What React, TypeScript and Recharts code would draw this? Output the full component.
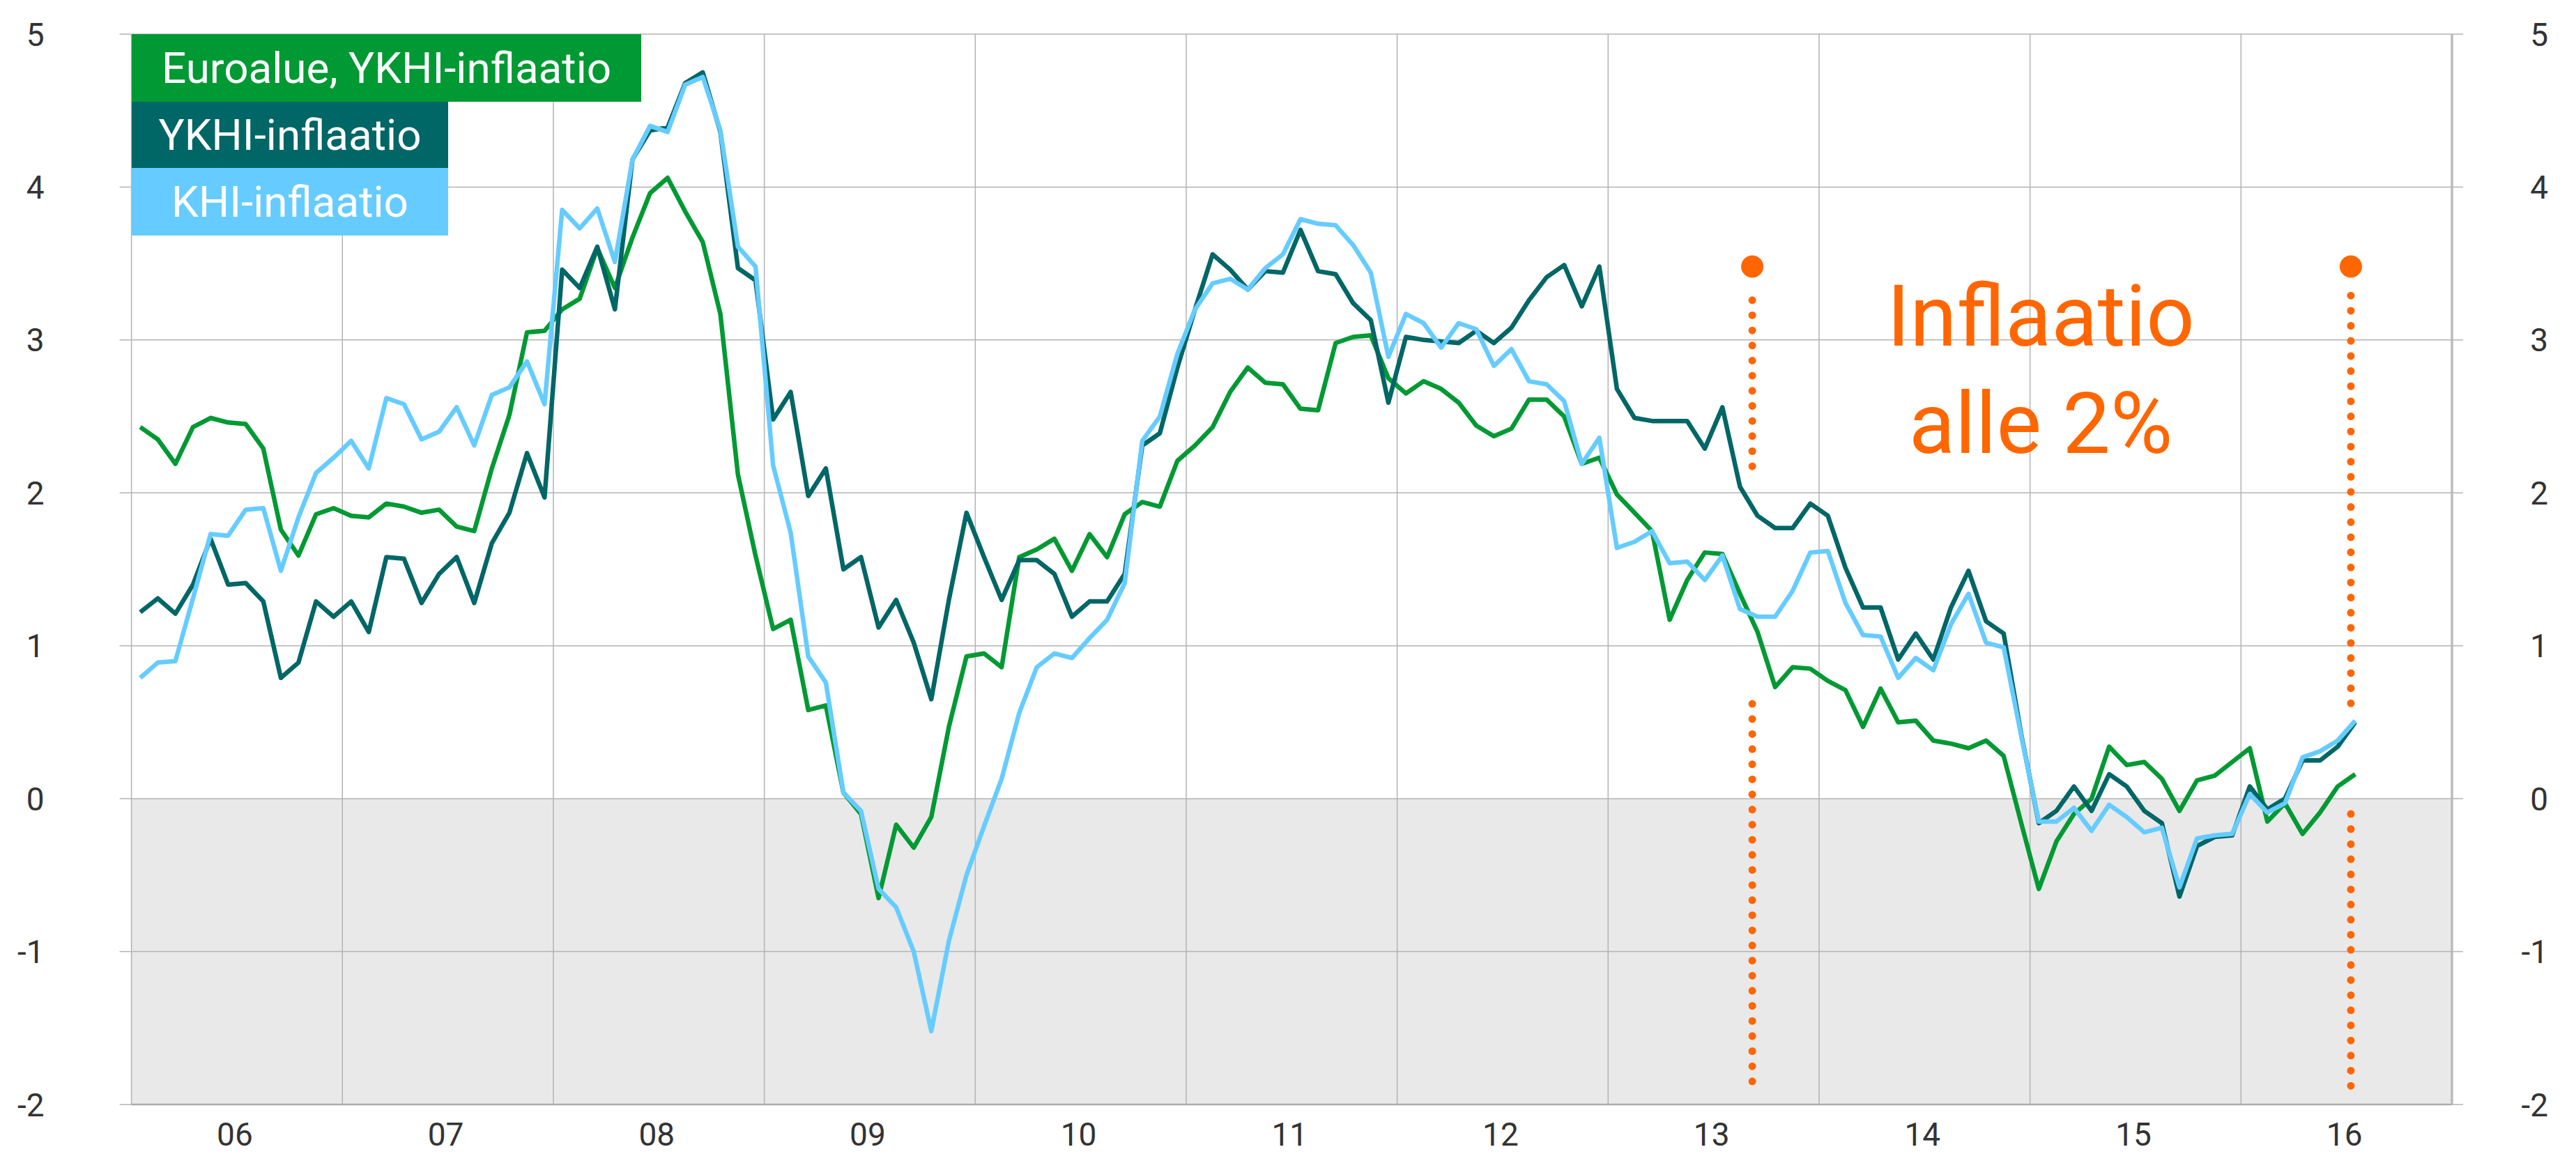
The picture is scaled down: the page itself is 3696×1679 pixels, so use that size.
import React from 'react';
import {
  LineChart,
  Line,
  XAxis,
  YAxis,
  ReferenceLine,
  ReferenceArea,
  ReferenceDot,
} from 'recharts';

// Monthly values, Jan 2006 ... Jul 2016
const euroHicp = [
  2.43, 2.35, 2.19, 2.43, 2.49, 2.46, 2.45, 2.29, 1.76, 1.59, 1.86, 1.9,
  1.85, 1.84, 1.93, 1.91, 1.87, 1.89, 1.78, 1.75, 2.16, 2.51, 3.05, 3.06,
  3.2, 3.27, 3.6, 3.34, 3.67, 3.96, 4.06, 3.84, 3.64, 3.17, 2.12, 1.59,
  1.11, 1.17, 0.58, 0.61, 0.04, -0.1, -0.65, -0.17, -0.32, -0.12, 0.47, 0.93,
  0.95, 0.86, 1.58, 1.63, 1.7, 1.49, 1.73, 1.58, 1.86, 1.94, 1.91, 2.21,
  2.31, 2.43, 2.66, 2.82, 2.72, 2.71, 2.55, 2.54, 2.98, 3.02, 3.03, 2.75,
  2.65, 2.73, 2.68, 2.59, 2.44, 2.37, 2.42, 2.61, 2.61, 2.5, 2.19, 2.23,
  1.99, 1.87, 1.75, 1.17, 1.43, 1.61, 1.6, 1.34, 1.09, 0.73, 0.86, 0.85,
  0.77, 0.71, 0.47, 0.72, 0.5, 0.51, 0.38, 0.36, 0.33, 0.38, 0.28, -0.16,
  -0.59, -0.28, -0.1, 0.0, 0.34, 0.22, 0.24, 0.13, -0.08, 0.12, 0.15, 0.24,
  0.33, -0.15, -0.03, -0.23, -0.09, 0.08, 0.16,
];

const finHicp = [
  1.22, 1.31, 1.21, 1.4, 1.7, 1.4, 1.41, 1.29, 0.79, 0.89, 1.29, 1.19,
  1.29, 1.09, 1.58, 1.57, 1.28, 1.47, 1.58, 1.28, 1.67, 1.87, 2.26, 1.97,
  3.46, 3.34, 3.61, 3.2, 4.18, 4.37, 4.39, 4.68, 4.75, 4.36, 3.47, 3.39,
  2.48, 2.66, 1.98, 2.16, 1.5, 1.58, 1.12, 1.3, 1.02, 0.65, 1.3, 1.87,
  1.58, 1.3, 1.56, 1.56, 1.47, 1.19, 1.29, 1.29, 1.47, 2.31, 2.39, 2.82,
  3.2, 3.56, 3.46, 3.33, 3.45, 3.44, 3.72, 3.45, 3.43, 3.24, 3.13, 2.59,
  3.02, 3.0, 2.99, 2.98, 3.06, 2.98, 3.08, 3.26, 3.41, 3.49, 3.22, 3.48,
  2.68, 2.49, 2.47, 2.47, 2.47, 2.29, 2.56, 2.04, 1.85, 1.77, 1.77, 1.93,
  1.85, 1.51, 1.25, 1.25, 0.91, 1.08, 0.91, 1.25, 1.49, 1.16, 1.08, 0.42,
  -0.16, -0.08, 0.08, -0.08, 0.16, 0.08, -0.08, -0.16, -0.64, -0.31, -0.25, -0.24,
  0.08, -0.07, 0.0, 0.25, 0.25, 0.34, 0.5,
];

const finCpi = [
  0.79, 0.89, 0.9, 1.31, 1.73, 1.72, 1.89, 1.9, 1.49, 1.84, 2.13, 2.23,
  2.34, 2.16, 2.62, 2.58, 2.35, 2.4, 2.56, 2.31, 2.64, 2.69, 2.86, 2.58,
  3.85, 3.73, 3.86, 3.51, 4.18, 4.4, 4.36, 4.67, 4.72, 4.37, 3.61, 3.48,
  2.18, 1.74, 0.93, 0.76, 0.04, -0.08, -0.59, -0.71, -1.0, -1.52, -0.93, -0.5,
  -0.18, 0.13, 0.56, 0.86, 0.95, 0.92, 1.05, 1.17, 1.41, 2.34, 2.5, 2.91,
  3.2, 3.37, 3.4, 3.33, 3.47, 3.56, 3.79, 3.76, 3.75, 3.62, 3.44, 2.89,
  3.17, 3.11, 2.95, 3.11, 3.07, 2.83, 2.94, 2.73, 2.71, 2.6, 2.19, 2.36,
  1.64, 1.68, 1.75, 1.54, 1.55, 1.43, 1.59, 1.24, 1.19, 1.19, 1.36, 1.61,
  1.62, 1.28, 1.07, 1.06, 0.79, 0.92, 0.84, 1.14, 1.34, 1.02, 0.99, 0.41,
  -0.15, -0.15, -0.06, -0.21, -0.04, -0.12, -0.22, -0.19, -0.58, -0.26, -0.24, -0.23,
  0.03, -0.09, -0.03, 0.27, 0.31, 0.38, 0.51,
];

const yearLabels = ['06', '07', '08', '09', '10', '11', '12', '13', '14', '15', '16'];
const yearTicks = [6, 18, 30, 42, 54, 66, 78, 90, 102, 114, 126];
const yearBoundaries = [12, 24, 36, 48, 60, 72, 84, 96, 108, 120];
const yTicks = [-2, -1, 0, 1, 2, 3, 4, 5];

const legendItems = [
  { label: 'Euroalue, YKHI-inflaatio', color: '#009933', width: 731 },
  { label: 'YKHI-inflaatio', color: '#006666', width: 454 },
  { label: 'KHI-inflaatio', color: '#66ccff', width: 454 },
];

const markers = [
  { x: 92.2, dot: 3.48, segments: [[3.26, 2.08], [0.62, -1.94]] },
  { x: 126.25, dot: 3.48, segments: [[3.29, 0.61], [-0.1, -1.97]] },
];

const data = euroHicp.map((v, i) => ({
  m: i + 0.5,
  euro: v,
  hicp: finHicp[i],
  cpi: finCpi[i],
}));

const W = 3696;
const H = 1679;
const FONT = 'Roboto, "DejaVu Sans", sans-serif';
const GRID = '#b3b3b3';
const ORANGE = '#ff6600';

const LeftTick = (props: any) => {
  const { x, y, payload } = props;
  return (
    <text x={x - 108} y={y} dy="0.36em" textAnchor="end" fontSize={46} fill="#333" fontFamily={FONT}>
      {payload.value}
    </text>
  );
};

const RightTick = (props: any) => {
  const { x, y, payload } = props;
  return (
    <text x={x + 122} y={y} dy="0.36em" textAnchor="end" fontSize={46} fill="#333" fontFamily={FONT}>
      {payload.value}
    </text>
  );
};

const XTick = (props: any) => {
  const { x, y, payload } = props;
  const idx = yearTicks.indexOf(payload.value);
  return (
    <text x={x - 3} y={y} dy={59} textAnchor="middle" fontSize={46} fill="#333" fontFamily={FONT}>
      {idx >= 0 ? yearLabels[idx] : ''}
    </text>
  );
};

export default function App() {
  return (
    <div style={{ position: 'absolute', left: 0, top: 0, width: W, height: H, background: '#fff', fontFamily: FONT }}>
      <LineChart width={W} height={H} data={data} margin={{ top: 49, right: 0, bottom: 0, left: 0 }}>
        <XAxis
          dataKey="m"
          type="number"
          domain={[0, 132]}
          ticks={yearTicks}
          tick={<XTick />}
          tickLine={false}
          tickSize={0}
          tickMargin={0}
          height={94}
          axisLine={{ stroke: '#aaaaaa', strokeWidth: 2.5 }}
          interval={0}
          allowDataOverflow
        />
        <YAxis
          yAxisId="left"
          type="number"
          domain={[-2, 5]}
          ticks={yTicks}
          width={188.6}
          tickSize={17}
          tickMargin={0}
          tickLine={{ stroke: GRID, strokeWidth: 1.5 }}
          axisLine={{ stroke: GRID, strokeWidth: 1.5 }}
          tick={<LeftTick />}
          interval={0}
          allowDataOverflow
        />
        <YAxis
          yAxisId="right"
          orientation="right"
          type="number"
          domain={[-2, 5]}
          ticks={yTicks}
          width={178}
          tickSize={16}
          tickMargin={0}
          tickLine={{ stroke: GRID, strokeWidth: 1.5 }}
          axisLine={{ stroke: '#bbbbbb', strokeWidth: 3.5 }}
          tick={<RightTick />}
          interval={0}
          allowDataOverflow
        />
        <ReferenceArea yAxisId="left" x1={0} x2={132} y1={-2} y2={0} fill="#e9e9e9" fillOpacity={1} stroke="none" />
        {yTicks.map((t) => (
          <ReferenceLine key={'h' + t} yAxisId="left" y={t} stroke={GRID} strokeWidth={1.5} />
        ))}
        {yearBoundaries.map((b) => (
          <ReferenceLine key={'v' + b} yAxisId="left" x={b} stroke={GRID} strokeWidth={1.5} />
        ))}
        <Line yAxisId="left" type="linear" dataKey="euro" stroke="#009933" strokeWidth={6.5} dot={false} isAnimationActive={false} strokeLinejoin="round" />
        <Line yAxisId="left" type="linear" dataKey="hicp" stroke="#006666" strokeWidth={6.5} dot={false} isAnimationActive={false} strokeLinejoin="round" />
        <Line yAxisId="left" type="linear" dataKey="cpi" stroke="#66ccff" strokeWidth={6.5} dot={false} isAnimationActive={false} strokeLinejoin="round" />
        {markers.map((mk, mi) =>
          mk.segments.map((s, si) => (
            <ReferenceLine
              key={'d' + mi + '-' + si}
              yAxisId="left"
              segment={[{ x: mk.x, y: s[0] }, { x: mk.x, y: s[1] }]}
              stroke={ORANGE}
              strokeWidth={11}
              strokeDasharray="0 21.67"
              strokeLinecap="round"
            />
          ))
        )}
        {markers.map((mk, mi) => (
          <ReferenceDot key={'b' + mi} yAxisId="left" x={mk.x} y={mk.dot} r={16} fill={ORANGE} stroke="none" />
        ))}
      </LineChart>

      <div style={{ position: 'absolute', left: 189, top: 49 }}>
        {legendItems.map((it, i) => (
          <div
            key={it.label}
            style={{
              width: it.width,
              height: i === 1 ? 95 : 97,
              background: it.color,
              color: '#fff',
              fontSize: 62,
              fontFamily: FONT,
              display: 'flex',
              alignItems: 'center',
              justifyContent: 'center',
              lineHeight: 1,
              whiteSpace: 'nowrap',
            }}
          >
            {it.label}
          </div>
        ))}
      </div>

      <div
        style={{
          position: 'absolute',
          left: 2628,
          top: 378,
          width: 600,
          textAlign: 'center',
          color: ORANGE,
          fontSize: 122,
          lineHeight: '154px',
          fontFamily: FONT,
          whiteSpace: 'nowrap',
        }}
      >
        <div>Inflaatio</div>
        <div>alle 2%</div>
      </div>
    </div>
  );
}
